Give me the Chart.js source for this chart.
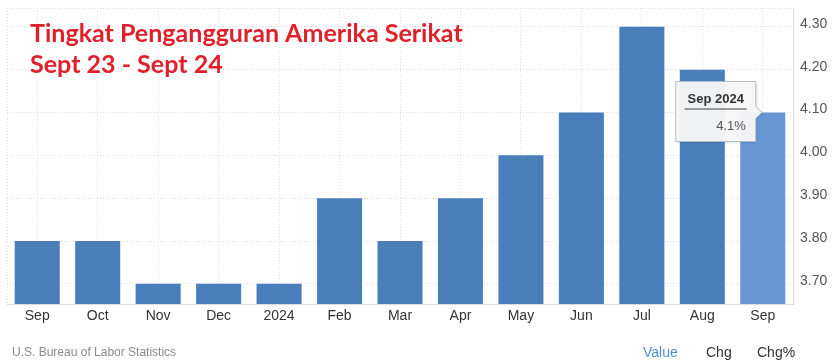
<!DOCTYPE html>
<html>
<head>
<meta charset="utf-8">
<script src="https://cdn.jsdelivr.net/npm/chart.js@4.4.0/dist/chart.umd.min.js"></script>
<style>
  html, body { margin: 0; padding: 0; background: #fff; }
  #wrap { width: 836px; height: 364px; position: relative; }
</style>
</head>
<body>
<div id="wrap"><canvas id="chart"></canvas></div>
<script>
// Données
const bulan = ['Sep', 'Oct', 'Nov', 'Dec', '2024', 'Feb', 'Mar', 'Apr', 'May', 'Jun', 'Jul', 'Aug', 'Sep'];
const nilai = [3.8, 3.8, 3.7, 3.7, 3.7, 3.9, 3.8, 3.9, 4.0, 4.1, 4.3, 4.2, 4.1];
const tickY = [3.70, 3.80, 3.90, 4.00, 4.10, 4.20, 4.30];
const judul = ['Tingkat Pengangguran Amerika Serikat', 'Sept 23 - Sept 24'];
const sumber = 'U.S. Bureau of Labor Statistics';
const tombol = ['Value', 'Chg', 'Chg%'];
const tooltipJudul = 'Sep 2024';
const tooltipNilai = '4.1%';

const FONT = '"Liberation Sans", Arial, sans-serif';
const warnaBar = nilai.map((v, i) => i === nilai.length - 1 ? '#6798d5' : '#4a7ebb');

// Plugin pour le titre, la source, les boutons et l'infobulle
const dekorasi = {
    id: 'dekorasi',
    afterDatasetsDraw(chart) {
        const ctx = chart.ctx;
        ctx.save();

        // titre rouge
        ctx.fillStyle = '#e0202b';
        ctx.textBaseline = 'alphabetic';
        ctx.textAlign = 'left';
        let size = 26;
        ctx.font = 'bold ' + size + 'px Lato, "Open Sans", sans-serif';
        const w = ctx.measureText(judul[0]).width;
        size = size * 433 / w;
        ctx.font = 'bold ' + size.toFixed(2) + 'px Lato, "Open Sans", sans-serif';
        ctx.fillText(judul[0], 30, 42);
        ctx.fillText(judul[1], 30, 73);

        // infobulle sur la dernière barre
        const bar = chart.getDatasetMeta(0).data[nilai.length - 1];
        const tipX = bar.x - 1, tipY = bar.y;
        const bx = tipX - 86, by = tipY - 31, bw = 80, bh = 60;
        ctx.shadowColor = 'rgba(0,0,0,0.15)';
        ctx.shadowBlur = 3;
        ctx.shadowOffsetX = 1;
        ctx.shadowOffsetY = 1;
        ctx.beginPath();
        ctx.moveTo(bx, by);
        ctx.lineTo(bx + bw, by);
        ctx.lineTo(bx + bw, tipY - 6);
        ctx.lineTo(tipX, tipY);
        ctx.lineTo(bx + bw, tipY + 6);
        ctx.lineTo(bx + bw, by + bh);
        ctx.lineTo(bx, by + bh);
        ctx.closePath();
        ctx.fillStyle = 'rgba(247,247,247,0.96)';
        ctx.fill();
        ctx.shadowColor = 'transparent';
        ctx.strokeStyle = '#b5bcc4';
        ctx.lineWidth = 1;
        ctx.stroke();

        ctx.fillStyle = '#333';
        ctx.font = 'bold 13px ' + FONT;
        ctx.textAlign = 'center';
        ctx.fillText(tooltipJudul, bx + bw / 2, by + 21);
        ctx.strokeStyle = '#444';
        ctx.beginPath();
        ctx.moveTo(bx + 9, by + 27.5);
        ctx.lineTo(bx + bw - 9, by + 27.5);
        ctx.stroke();
        ctx.fillStyle = '#555';
        ctx.font = '13px ' + FONT;
        ctx.textAlign = 'right';
        ctx.fillText(tooltipNilai, bx + bw - 10, by + 48);

        // source et boutons
        ctx.textAlign = 'left';
        ctx.font = '12px ' + FONT;
        ctx.fillStyle = '#8a8a8a';
        ctx.fillText(sumber, 12, 356);
        ctx.font = '14px ' + FONT;
        const posX = [643, 706, 757];
        tombol.forEach((t, i) => {
            ctx.fillStyle = i === 0 ? '#4a8fd6' : '#333';
            ctx.fillText(t, posX[i], 357);
        });
        ctx.restore();
    }
};

const chart = new Chart(document.getElementById('chart'), {
    type: 'bar',
    data: {
        labels: bulan,
        datasets: [{
            data: nilai,
            backgroundColor: warnaBar,
            borderWidth: 0,
            categoryPercentage: 1,
            barPercentage: 0.745
        }]
    },
    options: {
        responsive: true,
        maintainAspectRatio: false,
        animation: false,
        layout: { padding: { left: 7, top: 8, right: 0, bottom: 0 } },
        plugins: {
            legend: { display: false },
            tooltip: { enabled: false },
            title: { display: false }
        },
        scales: {
            x: {
                grid: {
                    offset: false,
                    color: '#e2e2e2',
                    drawTicks: false
                },
                border: { display: true, color: '#dcdcdc', dash: [1, 2] },
                ticks: {
                    color: '#333',
                    font: { family: FONT, size: 14 },
                    padding: 4,
                    maxRotation: 0,
                    autoSkip: false
                },
                afterFit(scale) {
                    scale.height = 60;
                    scale.paddingLeft = 0;
                    scale.paddingRight = 0;
                }
            },
            y: {
                position: 'right',
                min: 3.653,
                max: 4.344,
                afterBuildTicks(scale) {
                    scale.ticks = tickY.map(v => ({ value: v }));
                },
                grid: {
                    color: '#dedede',
                    drawTicks: false
                },
                border: { display: true, color: '#d8d8d8', dash: [1, 2] },
                ticks: {
                    color: '#555',
                    font: { family: FONT, size: 14 },
                    padding: 7,
                    labelOffset: -3,
                    callback: v => v.toFixed(2)
                },
                afterFit(scale) {
                    scale.width = 43;
                    scale.paddingTop = 0;
                    scale.paddingBottom = 0;
                }
            }
        }
    },
    plugins: [dekorasi, {
        id: 'garisTitik',
        beforeDraw(chart) {
            // bordure gauche et haute en pointillés
            const a = chart.chartArea, ctx = chart.ctx;
            ctx.save();
            ctx.strokeStyle = '#e0e0e0';
            ctx.setLineDash([1, 2]);
            ctx.beginPath();
            ctx.moveTo(a.left + 0.5, a.top);
            ctx.lineTo(a.left + 0.5, a.bottom);
            ctx.moveTo(a.left, a.top + 0.5);
            ctx.lineTo(a.right, a.top + 0.5);
            ctx.stroke();
            ctx.restore();
        }
    }]
});
</script>
</body>
</html>
